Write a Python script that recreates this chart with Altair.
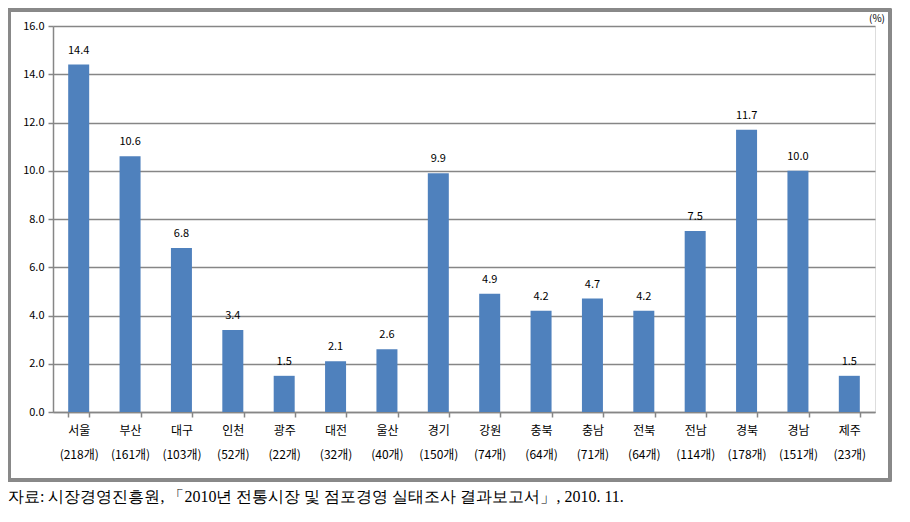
import altair as alt
import pandas as pd

regions = ["서울", "부산", "대구", "인천", "광주", "대전", "울산", "경기",
           "강원", "충북", "충남", "전북", "전남", "경북", "경남", "제주"]
counts = [218, 161, 103, 52, 22, 32, 40, 150, 74, 64, 71, 64, 114, 178, 151, 23]
values = [14.4, 10.6, 6.8, 3.4, 1.5, 2.1, 2.6, 9.9, 4.9, 4.2, 4.7, 4.2, 7.5, 11.7, 10.0, 1.5]
y_ticks = [0, 2, 4, 6, 8, 10, 12, 14, 16]
source = "자료: 시장경영진흥원, 「2010년 전통시장 및 점포경영 실태조사 결과보고서」, 2010. 11."
unit = "(%)"

labels = [f"{r}\n({c}개)" for r, c in zip(regions, counts)]
df = pd.DataFrame({"label": labels, "value": values})

FONT = "Noto Sans CJK KR"
W, H = 822, 386

x = alt.X("label:N", sort=labels, title=None,
          scale=alt.Scale(paddingInner=0.58, paddingOuter=0.29),
          axis=alt.Axis(labelExpr="split(datum.label, '\\n')", labelAngle=0,
                        labelLineHeight=24, labelFontSize=12, labelFont=FONT,
                        labelColor="#000", labelPadding=8, tickSize=5,
                        tickBand="extent", tickColor="#868686", tickWidth=1.5,
                        domainColor="#868686", domainWidth=1.5, grid=False))
y = alt.Y("value:Q", title=None,
          scale=alt.Scale(domain=[0, 16], nice=False),
          axis=alt.Axis(values=y_ticks, format=".1f", labelFont=FONT,
                        labelFontSize=11, labelColor="#000", tickSize=5,
                        tickColor="#868686", tickWidth=1.5,
                        domainColor="#868686", domainWidth=1.5,
                        grid=True, gridColor="#868686", gridWidth=1.5,
                        labelPadding=4))

bars = alt.Chart(df).mark_bar(color="#4F81BD", size=21).encode(x=x, y=y)
texts = alt.Chart(df).mark_text(font=FONT, fontSize=11, dy=-9, baseline="bottom",
                                color="#000").encode(
    x=alt.X("label:N", sort=labels), y="value:Q", text=alt.Text("value:Q", format=".1f"))

frame = alt.Chart(df).mark_rect(fill=None, stroke="#898989", strokeWidth=2.5).encode(
    x=alt.value(-44), x2=alt.value(837), y=alt.value(-16), y2=alt.value(454))

src = alt.Chart(pd.DataFrame({"t": [source]})).mark_text(
    font="Liberation Serif", fontSize=16, align="left", baseline="middle", color="#000"
).encode(x=alt.value(-45), y=alt.value(471), text="t:N")

unit_t = alt.Chart(pd.DataFrame({"t": [unit]})).mark_text(
    font=FONT, fontSize=10, align="right", baseline="middle", color="#000"
).encode(x=alt.value(832), y=alt.value(-7), text="t:N")

chart = alt.layer(frame, bars, texts, src, unit_t).properties(
    width=W, height=H,
    padding={"left": 45, "top": 18, "right": 20, "bottom": 95},
    autosize=alt.AutoSizeParams(type="none"),
).configure_view(stroke=None).configure(background="white")

chart.save("out.html", embed_options={"renderer": "svg", "actions": False})
